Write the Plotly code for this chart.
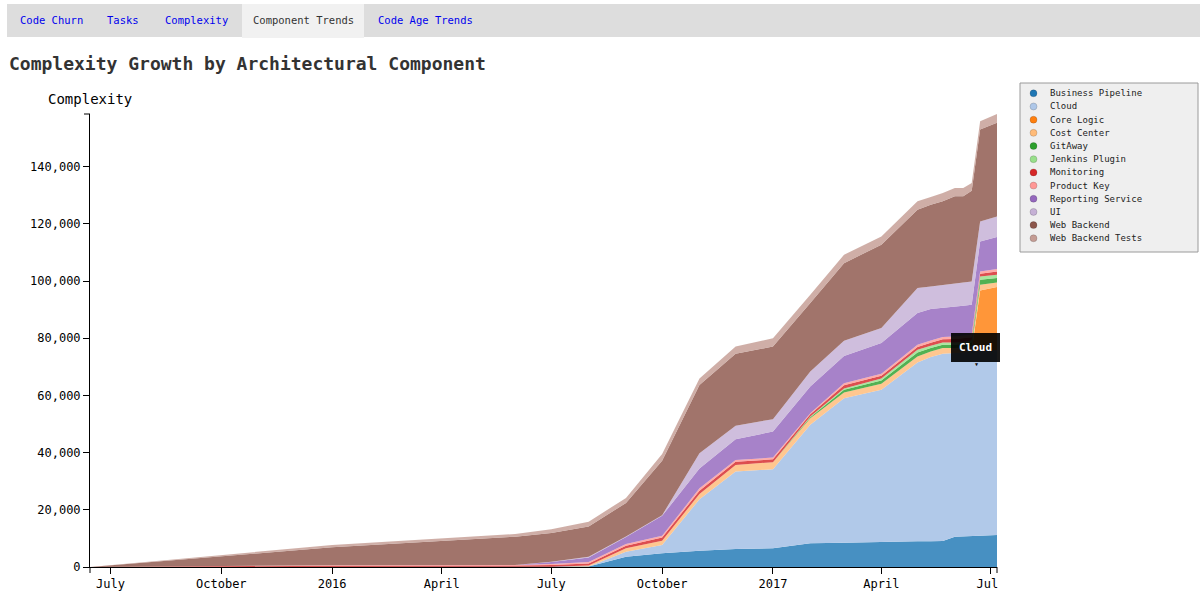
import plotly.graph_objects as go

# Snapshot dates of the complexity measurements
dates = ["2015-06-14", "2016-01-01", "2016-06-01", "2016-07-01", "2016-08-01", "2016-09-01",
         "2016-10-01", "2016-11-01", "2016-12-01", "2017-01-01", "2017-02-01", "2017-03-01",
         "2017-04-01", "2017-05-01", "2017-05-12", "2017-05-22", "2017-06-01", "2017-06-08",
         "2017-06-15", "2017-06-22", "2017-07-06"]

# Complexity per architectural component at each snapshot
business_pipeline = [0, 0, 0, 0, 200, 3600, 4800, 5700, 6300, 6550, 8300, 8500, 8850, 9000,
                     9000, 9100, 10600, 10700, 10900, 11000, 11200]
cloud = [0, 0, 0, 0, 0, 1750, 2900, 18000, 27050, 27650, 41400, 50550, 53100, 62500,
         64400, 65450, 64200, 64300, 64650, 64700, 64700]
core_logic = [0, 0, 0, 0, 0, 0, 0, 0, 0, 0, 0, 0, 0, 0,
              0, 0, 0, 0, 0, 21000, 22000]
cost_center = [0, 0, 0, 100, 300, 1200, 1500, 1850, 2350, 2450, 2350, 1950, 2100, 2100,
               1950, 2000, 1750, 1750, 1750, 2000, 1600]
gitaway = [0, 0, 0, 0, 0, 0, 0, 0, 0, 0, 300, 950, 1150, 1400,
           1250, 1200, 1200, 1200, 1200, 1750, 1550]
jenkins_plugin = [0, 0, 0, 0, 0, 0, 0, 0, 0, 0, 250, 450, 700, 950,
                  750, 750, 750, 750, 750, 1150, 1150]
monitoring = [0, 450, 500, 600, 700, 900, 1100, 1150, 1100, 1000, 800, 1150, 950, 1000,
              1050, 1100, 1200, 1200, 1050, 950, 1150]
product_key = [0, 150, 200, 350, 550, 600, 600, 800, 650, 600, 400, 700, 700, 750,
               800, 800, 900, 950, 900, 800, 850]
reporting_service = [0, 0, 0, 700, 1550, 2450, 7000, 6950, 7250, 9100, 9300, 9550, 10750, 11100,
                     11000, 10150, 10500, 10500, 10500, 10500, 11200]
ui = [0, 0, 0, 100, 300, 200, 200, 5300, 4650, 4350, 5300, 5350, 5250, 8750,
      7900, 8150, 8200, 8150, 8150, 7000, 7200]
web_backend = [0, 6300, 9900, 10050, 10550, 11700, 19050, 23900, 25200, 25400, 23900, 27100, 29150, 27400,
               28600, 29150, 30300, 30100, 31750, 32100, 32700]
web_backend_tests = [0, 800, 950, 1300, 1700, 1750, 2350, 2300, 2550, 2900, 2900, 2900, 2900, 2900,
                     2700, 2950, 2950, 2950, 2700, 2900, 3100]

component_names = ["Business Pipeline", "Cloud", "Core Logic", "Cost Center", "GitAway",
                   "Jenkins Plugin", "Monitoring", "Product Key", "Reporting Service", "UI",
                   "Web Backend", "Web Backend Tests"]
component_values = [business_pipeline, cloud, core_logic, cost_center, gitaway, jenkins_plugin,
                    monitoring, product_key, reporting_service, ui, web_backend, web_backend_tests]
component_colors = ["#1f77b4", "#aec7e8", "#ff7f0e", "#ffbb78", "#2ca02c", "#98df8a",
                    "#d62728", "#ff9896", "#9467bd", "#c5b0d5", "#8c564b", "#c49c94"]
component_alpha = [0.82, 0.97, 0.82, 0.82, 0.82, 0.82, 0.82, 0.82, 0.82, 0.82, 0.82, 0.82]

x_tick_dates = ["2015-07-01", "2015-10-01", "2016-01-01", "2016-04-01", "2016-07-01",
                "2016-10-01", "2017-01-01", "2017-04-01", "2017-07-01"]
x_tick_labels = ["July", "October", "2016", "April", "July", "October", "2017", "April", "Jul\u00a0"]
y_tick_values = [0, 20000, 40000, 60000, 80000, 100000, 120000, 140000]

tab_labels = ["Code Churn", "Tasks", "Complexity", "Component Trends", "Code Age Trends"]
active_tab = "Component Trends"

MONO = "DejaVu Sans Mono"
W, H = 1200, 592
PL, PR, PT, PB = 90, 997, 114, 567


def px(x):
    return (x - PL) / (PR - PL)


def py(y):
    return (PB - y) / (PB - PT)


def rgba(hex_color, a):
    h = hex_color.lstrip("#")
    return "rgba(%d,%d,%d,%s)" % (int(h[0:2], 16), int(h[2:4], 16), int(h[4:6], 16), a)


fig = go.Figure()
for name, vals, col, a in zip(component_names, component_values, component_colors, component_alpha):
    fig.add_trace(go.Scatter(
        x=dates, y=vals, name=name, mode="lines", stackgroup="one",
        line=dict(width=0, color=col), fillcolor=rgba(col, a),
        hoverinfo="skip", showlegend=False,
    ))

shapes = []
annotations = []

# Tab strip
shapes.append(dict(type="rect", xref="paper", yref="paper", x0=px(7), x1=px(1200), y0=py(37), y1=py(4),
                   fillcolor="#dddddd", line=dict(width=0), layer="below"))
tab_centers = [51, 123, 196, 303, 425]
shapes.append(dict(type="rect", xref="paper", yref="paper", x0=px(242), x1=px(364), y0=py(38), y1=py(4),
                   fillcolor="#f1f1f1", line=dict(width=0), layer="below"))
for lab, cx in zip(tab_labels, tab_centers):
    annotations.append(dict(
        text=lab, x=px(cx), y=py(20.5), xref="paper", yref="paper", showarrow=False,
        xanchor="center", yanchor="middle",
        font=dict(family=MONO, size=10.5, color="#333333" if lab == active_tab else "#0000ee"),
    ))

# Page heading
annotations.append(dict(
    text="<b>Complexity Growth by Architectural Component</b>", x=px(7), y=py(63),
    xref="paper", yref="paper", showarrow=False, xanchor="left", yanchor="middle",
    font=dict(family=MONO, size=18, color="#333333"),
))

# Y axis caption
annotations.append(dict(
    text="Complexity", x=px(90), y=py(99), xref="paper", yref="paper", showarrow=False,
    xanchor="center", yanchor="middle", font=dict(family=MONO, size=14, color="#000000"),
))

# Outer axis ticks
shapes.append(dict(type="line", xref="paper", yref="paper", x0=px(84), x1=px(90), y0=py(114), y1=py(114),
                   line=dict(color="#000000", width=1)))
shapes.append(dict(type="line", xref="paper", yref="paper", x0=px(997), x1=px(997), y0=py(567), y1=py(573),
                   line=dict(color="#000000", width=1)))
shapes.append(dict(type="line", xref="paper", yref="paper", x0=px(90), x1=px(90), y0=py(567), y1=py(573),
                   line=dict(color="#000000", width=1)))

# Legend box
shapes.append(dict(type="rect", xref="paper", yref="paper", x0=px(1020), x1=px(1198), y0=py(252), y1=py(83),
                   fillcolor="#efefef", line=dict(color="#9a9a9a", width=1)))
for i, (name, col) in enumerate(zip(component_names, component_colors)):
    cy = 93.3 + i * 13.18
    shapes.append(dict(type="circle", xref="paper", yref="paper",
                       x0=px(1030), x1=px(1037), y0=py(cy + 3.5), y1=py(cy - 3.5),
                       fillcolor=col, line=dict(color="rgba(0,0,0,0.25)", width=0.6)))
    annotations.append(dict(
        text=name, x=px(1048), y=py(cy), xref="paper", yref="paper", showarrow=False,
        xanchor="left", yanchor="middle", font=dict(family=MONO, size=9, color="#222222"),
    ))

# Hover tooltip
annotations.append(dict(
    text="<b>Cloud</b>", x=px(975.5), y=py(347), xref="paper", yref="paper", showarrow=False,
    xanchor="center", yanchor="middle", width=49, height=29, borderpad=0, borderwidth=0,
    bgcolor="rgba(0,0,0,0.9)", font=dict(family=MONO, size=11, color="#ffffff"),
))
annotations.append(dict(
    text="\u25bc", x=px(976), y=py(364), xref="paper", yref="paper", showarrow=False,
    xanchor="center", yanchor="middle", font=dict(family=MONO, size=5, color="#111111"),
))

fig.update_layout(
    width=W, height=H,
    margin=dict(l=PL, r=W - PR, t=PT, b=H - PB, pad=0, autoexpand=False),
    paper_bgcolor="#ffffff", plot_bgcolor="#ffffff",
    showlegend=False,
    shapes=shapes, annotations=annotations,
    font=dict(family=MONO, size=12, color="#000000"),
    xaxis=dict(
        type="date", range=[dates[0], dates[-1]], automargin=False,
        tickvals=x_tick_dates, ticktext=x_tick_labels,
        ticks="outside", ticklen=6, tickwidth=1, tickcolor="#000000",
        showline=True, linecolor="#000000", linewidth=1,
        showgrid=False, zeroline=False,
        tickfont=dict(family=MONO, size=12, color="#000000"),
    ),
    yaxis=dict(
        range=[0, 158400], tickvals=y_tick_values, tickformat=",d", automargin=False,
        ticks="outside", ticklen=6, tickwidth=1, tickcolor="#000000",
        showline=True, linecolor="#000000", linewidth=1,
        showgrid=False, zeroline=False,
        tickfont=dict(family=MONO, size=12, color="#000000"),
    ),
)

fig.write_html("out.html", config={"displayModeBar": False})
